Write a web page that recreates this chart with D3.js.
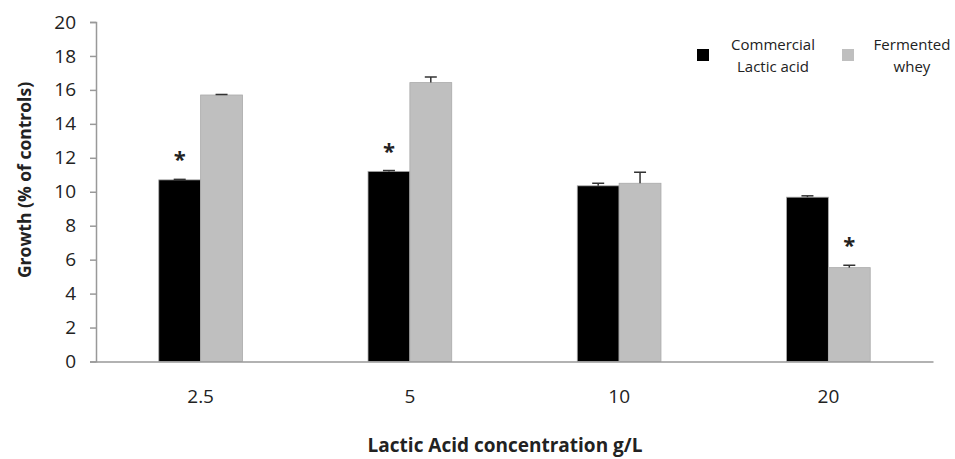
<!DOCTYPE html>
<html>
<head>
<meta charset="utf-8">
<script src="https://cdnjs.cloudflare.com/ajax/libs/d3/7.8.5/d3.min.js"></script>
<style>
  body { margin: 0; background: #fff; }
  text { font-family: "Open Sans", Lato, sans-serif; fill: #222; }
</style>
</head>
<body>
<svg id="chart" width="955" height="459"></svg>
<script>
var concentrations = ["2.5", "5", "10", "20"];
var seriesNames = ["Commercial Lactic acid", "Fermented whey"];
var commercial = [10.7, 11.2, 10.35, 9.68];
var commercialErr = [0.03, 0.05, 0.15, 0.08];
var whey = [15.7, 16.43, 10.5, 5.53];
var wheyErr = [0.03, 0.33, 0.65, 0.14];
var significant = [[true, false], [true, false], [false, false], [false, true]];
var yTicks = [0, 2, 4, 6, 8, 10, 12, 14, 16, 18, 20];

var colors = ["#000000", "#bfbfbf"];

var svg = d3.select("#chart"),
  plotLeft = 96, plotRight = 933, plotTop = 22, plotBottom = 361.5;

var x = d3.scaleBand()
  .domain(concentrations)
  .range([plotLeft, plotRight])
  .paddingInner(0.6)
  .paddingOuter(0.3);

var xSeries = d3.scaleBand()
  .domain([0, 1])
  .range([0, x.bandwidth()]);

var y = d3.scaleLinear()
  .domain([0, 20])
  .range([plotBottom, plotTop]);

var flat = d3.merge(concentrations.map(function(c, i) {
  return [
    { c: c, s: 0, v: commercial[i], e: commercialErr[i], star: significant[i][0] },
    { c: c, s: 1, v: whey[i], e: wheyErr[i], star: significant[i][1] }
  ];
}));

function barX(d) { return x(d.c) + xSeries(d.s); }
function barMid(d) { return barX(d) + xSeries.bandwidth() / 2; }

// y axis
var yAxis = svg.append("g")
  .attr("transform", "translate(" + plotLeft + ",0)")
  .call(d3.axisLeft(y).tickValues(yTicks).tickSize(6).tickPadding(14));
yAxis.select(".domain").attr("stroke", "#999").attr("stroke-width", 1.5);
yAxis.selectAll(".tick line").attr("stroke", "#999").attr("stroke-width", 1.5);
yAxis.selectAll(".tick text").style("font-size", "19px").style("fill", "#222");

// bars
svg.append("g")
  .selectAll("rect")
  .data(flat)
  .enter().append("rect")
    .attr("x", barX)
    .attr("y", function(d) { return y(d.v); })
    .attr("width", xSeries.bandwidth())
    .attr("height", function(d) { return y(0) - y(d.v); })
    .attr("fill", function(d) { return colors[d.s]; })
    .attr("stroke", "#aaa")
    .attr("stroke-width", 0.8);

// error bars
var err = svg.append("g")
  .attr("stroke", "#333")
  .attr("stroke-width", 1.5)
  .selectAll("g")
  .data(flat)
  .enter().append("g")
    .attr("transform", function(d) { return "translate(" + barMid(d) + ",0)"; });
err.append("line")
  .attr("y1", function(d) { return y(d.v); })
  .attr("y2", function(d) { return y(d.v + d.e); });
err.append("line")
  .attr("x1", -6).attr("x2", 6)
  .attr("y1", function(d) { return y(d.v + d.e); })
  .attr("y2", function(d) { return y(d.v + d.e); });

// significance asterisks
svg.append("g")
  .selectAll("text")
  .data(flat.filter(function(d) { return d.star; }))
  .enter().append("text")
    .attr("x", barMid)
    .attr("y", function(d) { return y(d.v + d.e) - 12; })
    .attr("text-anchor", "middle")
    .style("font-size", "22px")
    .style("font-weight", "bold")
    .text("*");

// x axis
var xAxis = svg.append("g")
  .attr("transform", "translate(0," + plotBottom + ")")
  .call(d3.axisBottom(x).tickSize(0).tickPadding(28));
xAxis.select(".domain").attr("stroke", "#999").attr("stroke-width", 1.5);
xAxis.selectAll(".tick text").style("font-size", "19px").style("fill", "#222");

// axis titles
svg.append("text")
  .attr("x", 505)
  .attr("y", 452)
  .attr("text-anchor", "middle")
  .style("font-size", "19px")
  .style("font-weight", "bold")
  .text("Lactic Acid concentration g/L");

svg.append("text")
  .attr("transform", "translate(31,180) rotate(-90)")
  .attr("text-anchor", "middle")
  .style("font-size", "17.5px")
  .style("font-weight", "bold")
  .text("Growth (% of controls)");

// legend
var legendLines = [["Commercial", "Lactic acid"], ["Fermented", "whey"]];
var legend = svg.append("g")
  .selectAll("g")
  .data(legendLines)
  .enter().append("g")
    .attr("transform", function(d, i) { return "translate(" + (697 + i * 145) + ",49)"; });
legend.append("rect")
  .attr("width", 12).attr("height", 12)
  .attr("fill", function(d, i) { return colors[i]; });
legend.append("text")
  .attr("x", function(d, i) { return i === 0 ? 76 : 70; })
  .attr("y", 1)
  .attr("text-anchor", "middle")
  .style("font-size", "15px")
  .selectAll("tspan")
  .data(function(d) { return d; })
  .enter().append("tspan")
    .attr("x", function() { return d3.select(this.parentNode).attr("x"); })
    .attr("dy", function(d, i) { return i === 0 ? 0 : 22; })
    .text(function(d) { return d; });
</script>
</body>
</html>
